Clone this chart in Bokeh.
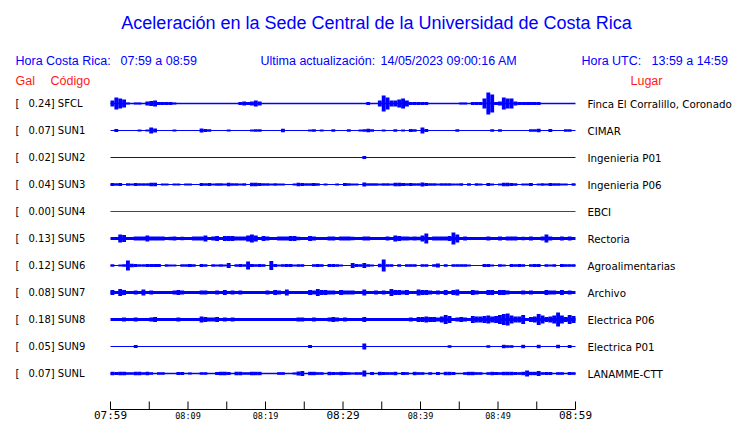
from bokeh.plotting import figure
from bokeh.models import Range1d, ColumnDataSource
from bokeh.core.properties import value
from bokeh.embed import file_html
from bokeh.resources import INLINE

# ---------------- data ----------------
title_text = "Aceleración en la Sede Central de la Universidad de Costa Rica"
cr_label, cr_range = "Hora Costa Rica:", "07:59 a 08:59"
upd_label, upd_value = "Ultima actualización:", "14/05/2023 09:00:16 AM"
utc_label, utc_range = "Hora UTC:", "13:59 a 14:59"

codes = ["SFCL", "SUN1", "SUN2", "SUN3", "SUN4", "SUN5", "SUN6", "SUN7", "SUN8", "SUN9", "SUNL"]
gal = ["0.24", "0.07", "0.02", "0.04", "0.00", "0.13", "0.12", "0.08", "0.18", "0.05", "0.07"]
places = ["Finca El Corralillo, Coronado", "CIMAR", "Ingenieria P01", "Ingenieria P06", "EBCI",
          "Rectoria", "Agroalimentarias", "Archivo", "Electrica P06", "Electrica P01", "LANAMME-CTT"]

tick_minutes = list(range(0, 61, 5))
label_minutes = [0, 10, 20, 30, 40, 50, 60]
tick_labels = ["07:59", "08:09", "08:19", "08:29", "08:39", "08:49", "08:59"]
major_label_minutes = [0, 30, 60]

BIN_MIN = 0.5  # envelope bin length (minutes); 120 bins per hour

# half-amplitude envelope of each trace (pixels), one value per half-minute
env_SFCL = [3, 6, 5, 4, 1, 0, 1, 1, 0, 2, 2.5, 3, 1.5, 1.5, 1.5, 1.5, 1, 0, 0, 0,
            0, 0, 0, 0, 0, 0, 0, 0, 0, 0, 0, 0, 0, 1.5, 2, 1.5, 2, 3, 2, 0,
            0, 0, 0, 0, 0, 0, 0, 0, 0, 0, 0, 0, 0, 0, 0, 0, 0, 0, 0, 0,
            0, 0, 0, 0, 0, 0, 1.5, 0, 0, 3, 8, 6, 3, 3, 4, 5, 3, 1.5, 1.5, 1.5,
            1.5, 1.5, 0, 0, 0, 0, 0, 0, 0, 0, 1, 1, 0, 1.5, 1.5, 1.5, 5, 11, 9, 1.5,
            2, 6, 5, 5, 2, 1.5, 1.5, 1.5, 1.5, 1.5, 1.5, 0, 0, 0, 0, 0, 0, 0, 0, 0]
env_SUN1 = [0, 1.5, 0, 0, 0, 0, 0, 1, 0, 1, 3, 2, 0, 0, 0, 0, 1, 0, 0, 0,
            0, 0, 0, 2, 1.5, 1.3, 0, 0, 0, 0, 1, 0, 0, 0, 0, 0, 1, 1.3, 1.3, 0,
            0, 0, 0, 0, 1.7, 0, 0, 0, 0, 0, 0, 1, 1.3, 0, 1, 0, 0, 1.3, 0, 0,
            0, 1.3, 0, 0, 1, 1.3, 1.7, 1.3, 0, 0, 1, 0, 0, 1.3, 0, 1, 0, 1.5, 1.3, 0,
            3, 1.5, 0, 0, 0, 0, 0, 0, 0, 1.3, 0, 0, 0, 0, 0, 0, 0, 0, 1.3, 0,
            1.3, 0, 0, 0, 0, 0, 0, 0, 1.3, 1.3, 1.7, 0, 0, 1.5, 0, 0, 0, 1.3, 1.3, 0]
env_SUN2 = [0] * 65 + [1.5] + [0] * 54
env_SUN3 = [1.5, 1.3, 1.5, 0, 1.3, 1, 1.5, 1.3, 1.3, 1.3, 1.7, 1.7, 0, 1, 1, 0, 1, 1, 0, 1,
            1, 0, 0, 1.5, 1.3, 1.5, 1, 1.3, 1.3, 1, 1.7, 1.3, 1.3, 1, 1.3, 0, 1.7, 1.7, 1.5, 1.3,
            1.3, 1, 1.3, 1, 1, 0, 0, 1, 1.7, 1.5, 1.3, 1.3, 1.5, 1.3, 0, 1, 0, 0, 1, 0,
            1.5, 1.3, 1, 1, 0, 2, 1.3, 1.3, 1.3, 1, 1.3, 1.3, 1, 1.7, 1.7, 1.5, 1.3, 1.5, 1.3, 1.3,
            2, 1.5, 1.3, 1.3, 1, 1.3, 1.3, 1.3, 1, 1, 1.3, 0, 1.3, 0, 1.3, 1, 0, 1.5, 1, 0,
            1, 1.7, 1.7, 1.5, 1.3, 0, 1, 1, 1.5, 0, 1, 1.3, 1, 1.5, 1.3, 1.3, 1, 1, 0, 1.3]
env_SUN4 = [0] * 120
env_SUN5 = [0, 0, 4, 3.5, 0, 0, 2, 2, 2, 3, 2, 2, 2, 2, 0, 1.7, 2, 0, 1.7, 0,
            0, 2, 2, 2, 3, 0, 2, 2.5, 1.5, 2.5, 2.5, 2.5, 2, 2, 2, 3, 4, 3, 0, 2.5,
            2, 0, 0, 2, 2, 2, 2.5, 2.5, 1.7, 0, 0, 2.5, 2, 0, 0, 0, 2, 2, 0, 2,
            2, 2, 1.7, 0, 0, 2, 2, 0, 0, 0, 0, 2, 0, 3, 2.5, 2, 2, 1.7, 2, 1.7,
            3, 5, 0, 2, 2, 2, 2, 2.5, 6, 4, 0, 2, 0, 0, 0, 0, 0, 2, 0, 0,
            2, 0, 2, 2, 2, 0, 1.7, 0, 2, 0, 0, 2, 4, 2, 0, 0, 2, 0, 2, 0]
env_SUN6 = [1.3, 0, 1, 1.3, 5, 1.7, 1.5, 1.3, 1.3, 1.5, 1.5, 1.5, 1.5, 0, 1.3, 1, 1, 0, 1.3, 1.3,
            1.5, 1.3, 0, 1.5, 1.3, 0, 1.3, 1, 1.3, 1, 2.5, 0, 1.3, 1.5, 1.3, 4, 1.5, 1.3, 1.5, 1.3,
            0, 4.5, 1.5, 1, 1.3, 1.5, 1.5, 1, 1.3, 1.3, 0, 0, 1.3, 1.5, 1.3, 0, 1.5, 1.5, 1.3, 1,
            0, 0, 2.5, 1.5, 1.3, 2.5, 1.3, 1, 0, 1.7, 6, 1.3, 1.3, 0, 1.3, 0, 1.3, 1.3, 1.3, 0,
            1.3, 1.3, 0, 1.3, 2, 0, 1.3, 0, 1.3, 1.3, 1.3, 1.3, 1, 0, 0, 0, 1.5, 1.5, 1, 0,
            1.3, 1, 0, 1.5, 1.3, 1.5, 1.3, 0, 1.3, 1.5, 1.5, 0, 1.3, 1, 1.3, 0, 1.5, 1.3, 1.3, 1.3]
env_SUN7 = [2.5, 0, 3.5, 2.5, 0, 0, 2, 0, 3, 0, 2, 0, 0, 0, 0, 0, 2, 2.5, 2, 0,
            0, 0, 0, 2, 2, 0, 0, 2, 0, 2.5, 0, 2, 0, 2, 0, 0, 0, 0, 0, 0,
            2, 0, 2.5, 2, 0, 3, 0, 0, 0, 0, 0, 2.5, 2, 3.5, 2.5, 2.5, 2, 2, 0, 2.5,
            2, 2, 2, 0, 0, 3, 0, 0, 2, 0, 2, 0, 3.5, 2.5, 2.5, 2, 2.5, 0, 0, 3,
            2.5, 2.5, 2, 0, 2, 0, 2.5, 0, 2.5, 3, 0, 0, 0, 2.5, 2, 0, 0, 2.5, 2.5, 0,
            2.5, 2.5, 2, 0, 0, 0, 2, 0, 2, 0, 0, 0, 2.5, 2, 2, 0, 2.5, 0, 2, 0]
env_SUN8 = [0, 0, 0, 2, 0, 0, 2, 0, 0, 0, 2, 2.5, 0, 0, 0, 0, 0, 2, 0, 0,
            0, 0, 0, 3, 2.5, 2, 2, 2.5, 0, 2, 0, 2, 0, 0, 0, 0, 0, 0, 0, 0,
            0, 0, 0, 0, 0, 0, 0, 0, 2, 2, 0, 0, 2, 0, 0, 0, 2, 2.5, 2, 0,
            2, 0, 0, 0, 0, 2.5, 0, 0, 0, 0, 0, 1.5, 0, 0, 1.5, 0, 0, 2, 0, 2.5,
            2.5, 3, 2.5, 2.5, 2, 3, 4.5, 3.5, 0, 2, 2.5, 2, 0, 3.5, 3, 3, 3.5, 4, 3, 3.5,
            4.5, 5.5, 6, 4, 3, 3, 4.5, 0, 2.5, 3, 5.5, 4, 2.5, 3, 4, 7, 4, 2.5, 4.5, 3.5]
env_SUN9 = [0, 0, 0, 0, 0, 0, 1.5, 0, 0, 0, 0, 0, 0, 0, 0, 0, 0, 0, 0, 0,
            0, 0, 0, 0, 0, 0, 0, 0, 0, 0, 0, 0, 0, 0, 0, 0, 0, 0, 0, 0,
            0, 0, 0, 0, 0, 0, 0, 0, 0, 0, 0, 1.5, 0, 0, 0, 0, 0, 0, 0, 0,
            0, 0, 0, 0, 0, 3, 0, 0, 0, 0, 0, 0, 0, 0, 0, 0, 0, 0, 0, 0,
            0, 0, 0, 0, 0, 0, 0, 1.3, 0, 0, 0, 0, 0, 0, 0, 0, 0, 1.3, 0, 0,
            0, 1.7, 1.3, 1.3, 0, 0, 1.7, 0, 0, 0, 1.7, 0, 0, 0, 0, 1.7, 0, 0, 1.5, 0]
env_SUNL = [1.7, 1.5, 1.7, 1.7, 1.3, 1.3, 1.7, 1.7, 1.3, 1.7, 1.3, 0, 1.3, 1.3, 0, 0, 0, 1.5, 1.5, 0,
            1, 0, 0, 1.3, 1.3, 0, 0, 1.5, 1.7, 1.7, 1.5, 0, 1.7, 1.7, 1.3, 1.3, 1.7, 1.7, 1.7, 0,
            0, 0, 0, 1.3, 1.3, 0, 0, 1, 2, 2.5, 0, 1.7, 1.7, 1.3, 1.3, 0, 1.7, 1.5, 1.3, 1.7,
            1.5, 1.3, 1, 1.3, 1.3, 3, 0, 1.5, 0, 1.7, 1.5, 1.3, 1.3, 1.7, 0, 1.5, 1.3, 0, 1.7, 1.3,
            1.3, 0, 1.3, 0, 1.5, 0, 1.7, 1.7, 1.5, 0, 0, 1.3, 1.7, 1.7, 1.3, 1.3, 0, 1.3, 1.7, 1.5,
            1.3, 1.7, 1.7, 1.7, 1.5, 1.3, 1.7, 3, 1.7, 1.7, 2.5, 1.3, 1.5, 1.5, 0, 1.3, 1.3, 0, 1.5, 1.3]

envelopes = [env_SFCL, env_SUN1, env_SUN2, env_SUN3, env_SUN4, env_SUN5,
             env_SUN6, env_SUN7, env_SUN8, env_SUN9, env_SUNL]

# ---------------- styles / layout ----------------
BLUE = "#0000ff"
RED = "#ff1a1a"
trace_color = {c: BLUE for c in codes}
trace_color["SUN4"] = "#ee0000"
base_width = {"SFCL": 1.5, "SUN1": 1.2, "SUN2": 1.2, "SUN3": 1.2, "SUN4": 1.2, "SUN5": 3.2,
              "SUN6": 1.2, "SUN7": 2.8, "SUN8": 3.0, "SUN9": 1.2, "SUNL": 1.6}

PX_PER_MIN = 7.75
X0_PX = 110.0
ROW0_PX = 103.0
ROW_PX = 27.0


def mx(sx):
    return (sx - X0_PX) / PX_PER_MIN


def ry(sy):
    return (sy - ROW0_PX) / ROW_PX


W, H = 740, 423
p = figure(width=W, height=H, output_backend="svg", toolbar_location=None,
           x_range=Range1d(mx(0), mx(W)), y_range=Range1d(ry(H), ry(0)),
           x_axis_type=None, y_axis_type=None, min_border=0)
p.outline_line_color = None
p.xgrid.visible = False
p.ygrid.visible = False
p.background_fill_color = "white"
p.border_fill_color = "white"

rows = list(range(len(codes)))

# baselines
p.segment(x0=[0] * len(rows), x1=[60] * len(rows), y0=rows, y1=rows,
          line_color=[trace_color[c] for c in codes],
          line_width=[base_width[c] for c in codes])

# envelopes
xs, tops, bots, cols = [], [], [], []
for r, c, env in zip(rows, codes, envelopes):
    for i, a in enumerate(env):
        if a > 0:
            xs.append((i + 0.5) * BIN_MIN)
            tops.append(r - a / ROW_PX)
            bots.append(r + a / ROW_PX)
            cols.append(trace_color[c])
src = ColumnDataSource(dict(x=xs, top=tops, bottom=bots, color=cols))
p.vbar(x="x", width=BIN_MIN, top="top", bottom="bottom", source=src,
       fill_color="color", line_color=None)

# station labels
lab_font = value("DejaVu Sans")
p.text(x=[mx(15)] * len(rows), y=rows, text=["["] * len(rows), text_font=lab_font,
       text_font_size="10px", text_color="black", text_baseline="middle", text_align="left")
p.text(x=[mx(28)] * len(rows), y=rows, text=[f"{g}] {c}" for g, c in zip(gal, codes)],
       text_font=lab_font, text_font_size="10px", text_color="black",
       text_baseline="middle", text_align="left")
p.text(x=[mx(587)] * len(rows), y=rows, text=places, text_font=lab_font,
       text_font_size="10.3px", text_color="black", text_baseline="middle", text_align="left")

# title & header
hfont = value("Liberation Sans")
p.text(x=[mx(376)], y=[ry(22)], text=[title_text], text_font=hfont, text_font_size="18px",
       text_color=BLUE, text_align="center", text_baseline="middle")
p.text(x=[mx(15), mx(120), mx(260), mx(380), mx(581), mx(651)], y=[ry(60)] * 6,
       text=[cr_label, cr_range, upd_label, upd_value, utc_label, utc_range],
       text_font=hfont, text_font_size="12.5px", text_color=BLUE,
       text_align="left", text_baseline="middle")
p.text(x=[mx(15), mx(50), mx(630)], y=[ry(80)] * 3, text=["Gal", "Código", "Lugar"],
       text_font=hfont, text_font_size="12.5px", text_color=RED,
       text_align="left", text_baseline="middle")

# time axis
AX_Y = ry(409)
p.segment(x0=[0], x1=[60], y0=[AX_Y], y1=[AX_Y], line_color="black", line_width=1)
p.segment(x0=tick_minutes, x1=tick_minutes, y0=[AX_Y] * len(tick_minutes),
          y1=[ry(401)] * len(tick_minutes), line_color="black", line_width=1)
big = [(m, t) for m, t in zip(label_minutes, tick_labels) if m in major_label_minutes]
small = [(m, t) for m, t in zip(label_minutes, tick_labels) if m not in major_label_minutes]
p.text(x=[m for m, _ in big], y=[ry(421)] * len(big), text=[t for _, t in big],
       text_font=value("DejaVu Sans Mono"), text_font_size="11px", text_color="black",
       text_align="center", text_baseline="bottom")
p.text(x=[m for m, _ in small], y=[ry(420)] * len(small), text=[t for _, t in small],
       text_font=value("DejaVu Sans Mono"), text_font_size="8.5px", text_color="black",
       text_align="center", text_baseline="bottom")

open("out.html", "w").write(file_html(p, INLINE))
